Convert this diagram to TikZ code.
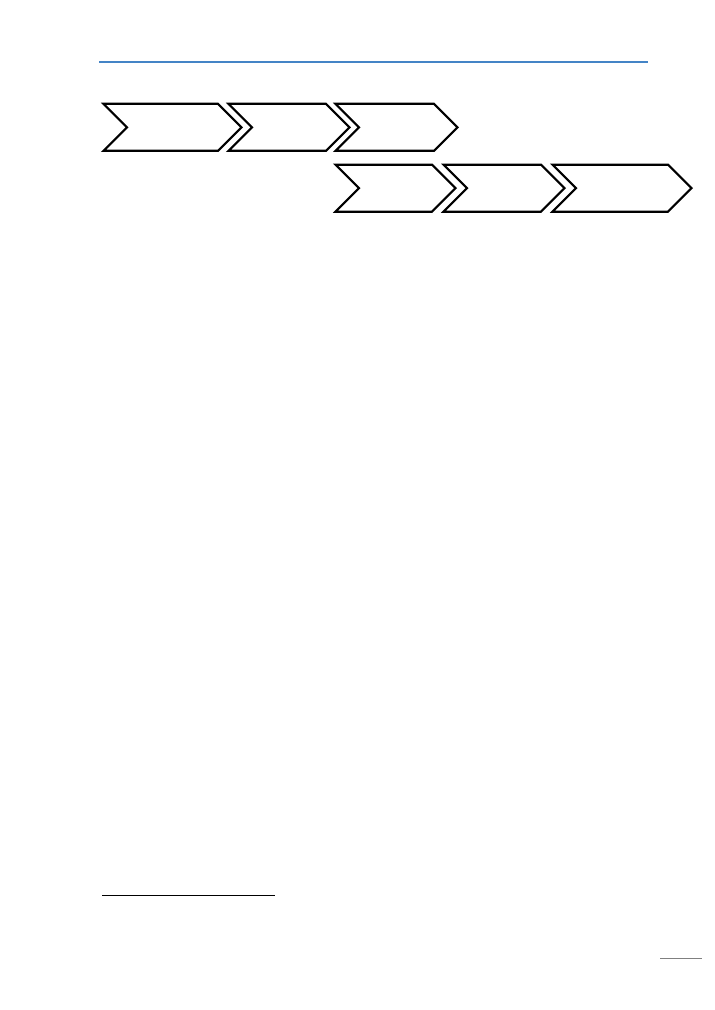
\documentclass[tikz,border=0pt]{standalone}
\usepackage{tikz}
\usetikzlibrary{shapes.symbols}
\definecolor{headblue}{RGB}{68,132,198}
\tikzstyle{stage}=[signal,signal from=west,signal to=east,signal pointer angle=90,
  draw,line width=1.6pt,minimum height=47pt*0.75,inner sep=0pt,outer sep=0pt]
\tikzstyle{rule}=[line width=0.8pt]

\begin{document}
\begin{tikzpicture}[x=0.75pt,y=-0.75pt]
    \useasboundingbox (0,0) rectangle (714,1010);
    \coordinate (headl) at (99,62);
    \coordinate (headr) at (648,62);
    \draw[rule,headblue] (headl) -- (headr);

    \foreach \pos/\name/\wd in {{(172.5,127.3)/s1/138}, {(289,127.3)/s2/121},
    {(396.5,127.3)/s3/122},{(395.5,188.2)/s4/120},{(504,188.2)/s5/121},
    {(622,188.2)/s6/139}}
        \node[stage,minimum width=\wd*0.75pt] (\name) at \pos {};

    \coordinate (footl) at (102,895.3);
    \coordinate (footr) at (275,895.3);
    \draw[rule,black] (footl) -- (footr);
    \coordinate (pagel) at (660,958.3);
    \coordinate (pager) at (702,958.3);
    \draw[rule,black!50] (pagel) -- (pager);
\end{tikzpicture}
\end{document}
